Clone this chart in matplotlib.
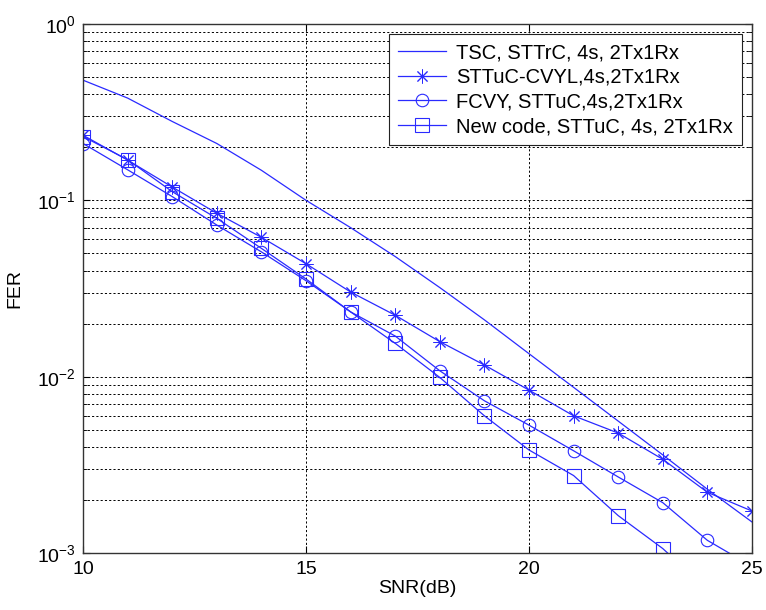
import matplotlib
matplotlib.use("Agg")
import matplotlib.pyplot as plt
from matplotlib.ticker import LogLocator, FixedLocator, NullFormatter

plt.rcParams['font.family'] = ['Liberation Sans', 'DejaVu Sans']
plt.rcParams['mathtext.fontset'] = 'custom'
plt.rcParams['mathtext.rm'] = 'Liberation Sans'

# Data
snr = [10, 11, 12, 13, 14, 15, 16, 17, 18, 19, 20, 21, 22, 23, 24, 25]
fer_tsc = [0.48, 0.38, 0.28, 0.21, 0.148, 0.100, 0.070, 0.048, 0.032, 0.021,
           0.0135, 0.0087, 0.0056, 0.0036, 0.0023, 0.0015]
fer_cvyl = [0.234, 0.169, 0.119, 0.0844, 0.0617, 0.0437, 0.0302, 0.0223, 0.0158,
            0.01164, 0.00839, 0.0060, 0.00479, 0.0034, 0.00221, 0.00173]
fer_fcvy = [0.21, 0.149, 0.105, 0.0724, 0.051, 0.035, 0.0233, 0.0170, 0.0108,
            0.0073, 0.00531, 0.0038, 0.0027, 0.00193, 0.00118, 0.00084]
snr_new = [10, 11, 12, 13, 14, 15, 16, 17, 18, 19, 20, 21, 22, 23, 24]
fer_new = [0.23, 0.17, 0.112, 0.079, 0.0534, 0.0358, 0.0233, 0.01545, 0.0099,
           0.0060, 0.00384, 0.00275, 0.00163, 0.00106, 0.00062]

labels = ['TSC, STTrC, 4s, 2Tx1Rx', 'STTuC-CVYL,4s,2Tx1Rx',
          'FCVY, STTuC,4s,2Tx1Rx', 'New code, STTuC, 4s, 2Tx1Rx']

fig = plt.figure(figsize=(7.66, 6.10), dpi=100)
ax = fig.add_axes([0.1084, 0.0934, 0.8733, 0.8673])

col = '#2a2aff'
lw = 0.9
ax.plot(snr, fer_tsc, color=col, lw=lw, label=labels[0])
ax.plot(snr, fer_cvyl, color=col, lw=lw, marker=(8, 2, 0), ms=10, mew=0.7, label=labels[1])
ax.plot(snr, fer_fcvy, color=col, lw=lw, marker='o', ms=9, mfc='none', mew=0.8, label=labels[2])
ax.plot(snr_new, fer_new, color=col, lw=lw, marker='s', ms=10, mfc='none', mew=0.8, label=labels[3])

ax.set_yscale('log')
ax.set_xlim(10, 25)
ax.set_ylim(1e-3, 1)
ax.xaxis.set_major_locator(FixedLocator([10, 15, 20, 25]))
ax.yaxis.set_major_locator(LogLocator(base=10, numticks=10))
ax.yaxis.set_minor_locator(LogLocator(base=10, subs=range(2, 10), numticks=20))
ax.yaxis.set_minor_formatter(NullFormatter())

gstyle = dict(color='k', linestyle=(0, (2.2, 2.2)), linewidth=0.7)
ax.grid(True, which='major', axis='both', **gstyle)
ax.grid(True, which='minor', axis='y', **gstyle)

ax.tick_params(which='both', direction='in', top=True, right=True, labelsize=14)
ax.tick_params(axis='x', pad=6)
ax.tick_params(axis='y', pad=5)
ax.tick_params(which='major', length=5)
ax.tick_params(which='minor', length=3)
for s in ax.spines.values():
    s.set_color('#333333')
    s.set_linewidth(1.0)

ax.set_xlabel('SNR(dB)', fontsize=14, labelpad=1)
ax.set_ylabel('FER', fontsize=14, labelpad=10)

leg = ax.legend(loc='upper right', bbox_to_anchor=(0.985, 0.981), fontsize=14.5,
                fancybox=False, framealpha=1, edgecolor='#222222',
                handlelength=2.4, borderaxespad=0, labelspacing=0.28,
                handletextpad=0.5, borderpad=0.45)
leg.get_frame().set_linewidth(0.8)

fig.savefig('out.png', dpi=100)
